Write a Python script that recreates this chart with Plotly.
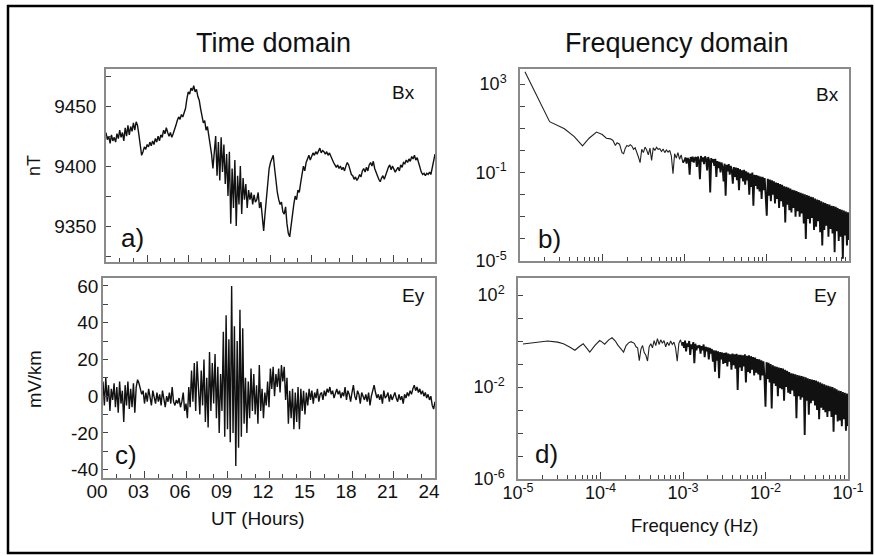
import numpy as np
import plotly.graph_objects as go

# ---------------- data ----------------
# sampling grid of the time series: one sample every 0.1 h (6 min), 00-24 UT
hours = np.round(np.arange(241) * 0.1, 1)

bx_nT = [
    9428, 9422, 9425, 9419, 9426, 9421, 9424, 9420, 9427, 9423,
    9430, 9424, 9428, 9421, 9432, 9425, 9434, 9426, 9433, 9429,
    9436, 9430, 9437, 9434, 9426, 9416, 9409, 9412, 9416, 9414,
    9418, 9416, 9420, 9417, 9421, 9418, 9423, 9420, 9425, 9421,
    9426, 9424, 9430, 9427, 9432, 9428, 9425, 9428, 9424, 9427,
    9430, 9434, 9438, 9441, 9439, 9443, 9441, 9445, 9448, 9456,
    9462, 9460, 9465, 9463, 9467, 9462, 9464, 9458, 9455, 9448,
    9442, 9436, 9438, 9430, 9433, 9426, 9420, 9410, 9398, 9412,
    9425, 9392, 9420, 9388, 9424, 9395, 9418, 9385, 9410, 9375,
    9412, 9352, 9398, 9365, 9405, 9350, 9392, 9368, 9400, 9360,
    9390, 9372, 9385, 9365, 9380, 9372, 9378, 9368, 9376, 9370,
    9372, 9378, 9365, 9370, 9358, 9346, 9360, 9372, 9385, 9398,
    9403, 9407, 9409, 9398, 9385, 9378, 9372, 9368, 9370, 9362,
    9360, 9366, 9352, 9344, 9341, 9350, 9362, 9368, 9375, 9372,
    9380, 9378, 9386, 9392, 9400, 9396, 9403, 9406, 9409, 9405,
    9408, 9411, 9409, 9412, 9410, 9413, 9415, 9411, 9413, 9412,
    9410, 9412, 9409, 9411, 9408, 9406, 9403, 9401, 9399, 9401,
    9398, 9400, 9397, 9399, 9396, 9400, 9403, 9401, 9397, 9393,
    9392, 9389, 9391, 9388, 9390, 9393, 9391, 9396, 9398, 9395,
    9399, 9396, 9401, 9403, 9400, 9404, 9398, 9394, 9392, 9389,
    9387, 9390, 9392, 9389, 9393, 9396, 9399, 9401, 9397, 9400,
    9398, 9395, 9397, 9399, 9396, 9401, 9399, 9403, 9402, 9405,
    9403, 9406, 9404, 9408, 9406, 9409, 9405, 9407, 9403, 9398,
    9395, 9393, 9394, 9392, 9394, 9393, 9395, 9393, 9398, 9403,
    9410,
]

ey_mVkm = [
    8, -5, 10, -3, 6, -8, 4, -2, 7, -6,
    5, -9, 8, -4, 3, -14, 6, -5, 8, -7,
    4, -6, 7, -9, 5, 9, 7, 4, 1, 3,
    -4, 2, -3, 4, -2, -5, 3, -1, -4, 2,
    -3, 1, -5, 3, -2, -6, 0, -3, 2, -4,
    5, -3, -5, -2, -4, -1, -6, -3, 2, -8,
    -4, -12, 5, -6, 14, -3, 18, -8, 19, 2,
    -10, 14, -5, 20, -14, 10, -17, 24, -8, 18,
    -4, 23, -12, 16, -20, 12, -8, 35, -22, 44,
    -18, 31, -25, 60, -20, 38, -38, 30, -28, 47,
    -22, 37, -15, 10, -20, 8, -12, 15, -8, 12,
    -10, 6, -15, 17, -8, 4, -12, 2, -5, 8,
    -6, 15, 4, 16, 0, 12, 5, 15, 2, 17,
    8, 16, -2, 10, -15, 3, -12, 4, -18, 2,
    -14, 5, -18, 4, -8, 3, -10, 2, -5, 4,
    -2, 3, -4, 2, -1, 4, -3, 1, 2, -2,
    3, 0, 4, 2, 5, 1, 3, -1, 2, 4,
    1, 3, -1, 2, 0, 5, -2, 3, 1, -3,
    2, 6, 0, -2, 3, 1, -4, 2, 0, -2,
    1, -3, 2, -5, 0, 3, 6, 2, -1, 1,
    -2, 1, -4, 3, -1, 0, 2, -3, 1, -2,
    0, 2, -1, -3, 1, -2, 0, -4, 1, -1,
    2, 0, 3, 1, 4, 6, 3, 5, 2, 4,
    1, 3, 0, 2, -1, 1, -2, 0, -5, -7,
    -3,
]

# low-frequency part of the spectra: log10(frequency) and log10(power)
bx_spec_logf = [-4.94, -4.64, -4.46, -4.34, -4.24, -4.16, -4.07, -4.00, -3.95, -3.90,
                -3.87, -3.84, -3.82, -3.79, -3.76, -3.74, -3.72, -3.70, -3.68, -3.66,
                -3.64, -3.62, -3.60, -3.58, -3.56, -3.54, -3.52, -3.50, -3.48, -3.46,
                -3.44, -3.42, -3.40, -3.38, -3.36, -3.34, -3.32, -3.30, -3.28, -3.26,
                -3.24, -3.22, -3.20, -3.18, -3.16, -3.14, -3.12, -3.10, -3.08, -3.06,
                -3.04, -3.02]
bx_spec_logp = [3.56, 1.30, 0.98, 0.62, 0.20, 0.55, 0.83, 0.72, 0.55, 0.52,
                0.45, 0.22, 0.35, 0.28, -0.10, -0.15, 0.10, 0.22, 0.18, 0.26,
                0.20, 0.05, 0.12, -0.05, -0.30, -0.55, 0.05, -0.10, 0.15, 0.02,
                -0.20, 0.10, -0.45, 0.12, 0.00, 0.14, 0.05, 0.08, -0.05, 0.06,
                -0.10, 0.02, -0.08, 0.00, -0.25, -1.05, -0.15, -0.35, -0.10, -0.40,
                -0.20, -0.55]

ey_spec_logf = [-4.94, -4.80, -4.64, -4.52, -4.45, -4.38, -4.31, -4.26, -4.21, -4.17,
                -4.13, -4.07, -4.01, -3.98, -3.95, -3.90, -3.86, -3.82, -3.79, -3.75,
                -3.72, -3.69, -3.66, -3.63, -3.61, -3.59, -3.57, -3.55, -3.53, -3.51,
                -3.49, -3.47, -3.45, -3.43, -3.41, -3.39, -3.37, -3.35, -3.33, -3.31,
                -3.29, -3.27, -3.25, -3.23, -3.21, -3.19, -3.17, -3.15, -3.13, -3.11,
                -3.09, -3.07, -3.05, -3.03, -3.01]
ey_spec_logp = [-0.13, -0.08, 0.00, -0.05, -0.12, -0.25, -0.40, -0.25, -0.12, -0.30,
                -0.48, -0.20, 0.02, -0.05, -0.14, 0.05, 0.14, 0.00, -0.18, -0.35,
                -0.48, -0.20, -0.08, -0.03, -0.05, -0.10, -0.25, -0.30, -0.85, -0.35,
                -0.20, -0.50, -0.62, -0.87, -0.25, -0.12, -0.30, 0.02, -0.20, 0.10,
                -0.15, 0.05, -0.10, 0.02, -0.25, -0.05, -0.20, 0.00, -0.15, -0.05,
                -0.30, -0.88, -0.10, 0.05, -0.20]

# high-frequency part: log10(power) every 0.0125 decade from 10^-3 to 10^-1 Hz
dense_logf_start, dense_logf_step = -3.0, 0.0125
bx_dense_logp = [
    -0.45, -0.32, -0.60, -0.35, -0.42, -1.10, -0.30, -0.50,
    -0.28, -0.55, -0.35, -0.30, -0.75, -0.28, -0.45, -1.30,
    -0.25, -0.50, -0.32, -0.62, -0.27, -0.40, -0.90, -0.30,
    -0.45, -1.90, -0.35, -0.55, -0.40, -0.70, -0.38, -1.20,
    -0.48, -0.80, -0.52, -1.00, -0.55, -0.75, -1.40, -0.60,
    -2.05, -0.65, -0.95, -0.62, -1.10, -0.70, -0.90, -1.50,
    -0.75, -1.20, -0.78, -1.35, -0.80, -1.80, -0.85, -1.25,
    -0.90, -1.40, -0.88, -1.55, -0.95, -1.35, -1.00, -2.00,
    -1.05, -1.65, -1.00, -2.50, -1.10, -1.60, -1.12, -1.75,
    -1.15, -1.85, -1.18, -2.20, -1.20, -1.80, -1.25, -2.10,
    -2.95, -1.28, -2.05, -1.32, -2.30, -1.35, -2.00, -1.40,
    -2.40, -1.45, -2.20, -1.48, -2.60, -1.52, -2.30, -1.55,
    -2.55, -1.62, -3.26, -1.65, -2.45, -1.68, -2.70, -1.72,
    -2.80, -1.78, -2.60, -1.80, -3.00, -1.84, -2.75, -1.88,
    -3.00, -1.92, -2.85, -1.95, -3.30, -1.98, -4.00, -2.02,
    -3.10, -2.05, -3.30, -2.10, -3.05, -2.12, -3.60, -2.18,
    -3.45, -2.22, -3.20, -2.25, -3.70, -2.30, -4.30, -2.35,
    -3.60, -2.38, -3.40, -2.42, -3.90, -2.45, -3.55, -2.50,
    -3.75, -2.52, -4.60, -2.55, -3.65, -2.60, -4.10, -2.65,
    -3.90, -2.68, -4.90, -2.72, -3.85, -2.76, -4.30, -2.80,
    -4.05,
]
ey_dense_logp = [
    -0.05, -0.30, 0.02, -0.45, -0.10, -0.25, 0.00, -0.60,
    -0.15, -0.35, -0.05, -0.97, -0.12, -0.40, -0.20, -0.30,
    -0.18, -0.55, -0.22, -0.40, -0.15, -0.70, -0.25, -0.45,
    -0.28, -0.80, -0.30, -0.55, -0.35, -0.90, -0.40, -1.33,
    -0.42, -0.85, -0.45, -1.62, -0.48, -0.80, -0.50, -1.00,
    -0.52, -0.95, -0.50, -1.10, -0.55, -0.90, -0.58, -1.25,
    -0.55, -1.05, -0.58, -1.20, -0.56, -2.13, -0.60, -1.15,
    -0.60, -1.30, -0.62, -1.10, -0.58, -1.80, -0.64, -1.35,
    -0.62, -1.40, -0.66, -1.25, -0.70, -1.50, -0.72, -1.38,
    -0.78, -1.45, -0.80, -1.70, -0.84, -1.50, -0.88, -1.60,
    -2.86, -0.92, -1.65, -0.95, -1.80, -1.00, -2.93, -1.05,
    -1.85, -1.10, -1.95, -1.12, -2.40, -1.15, -2.05, -1.18,
    -2.10, -1.20, -2.60, -1.25, -2.00, -1.30, -2.25, -1.35,
    -2.30, -1.40, -2.15, -1.42, -2.40, -1.45, -3.36, -1.48,
    -2.40, -1.50, -2.55, -1.52, -2.45, -1.55, -4.09, -1.58,
    -2.60, -1.62, -3.20, -1.65, -2.70, -1.68, -2.60, -1.70,
    -2.80, -1.72, -3.00, -1.76, -3.40, -1.80, -2.90, -1.85,
    -3.00, -1.88, -3.10, -1.92, -3.30, -1.95, -3.05, -1.98,
    -3.30, -2.00, -3.95, -2.05, -3.20, -2.10, -3.50, -2.15,
    -3.45, -2.18, -3.70, -2.22, -3.40, -2.25, -3.90, -2.28,
    -3.70,
]

time_tick_vals = [0, 3, 6, 9, 12, 15, 18, 21, 24]
time_tick_text = ["00", "03", "06", "09", "12", "15", "18", "21", "24"]
bx_tick_vals = [9350, 9400, 9450]
ey_tick_vals = [-40, -20, 0, 20, 40, 60]
ey_tick_text = ["-40", "-20", "0", "20", "40", "60"]

# ---------------- derived arrays ----------------
dense_logf = dense_logf_start + dense_logf_step * np.arange(len(bx_dense_logp))
bx_lo_f = 10 ** np.array(bx_spec_logf)
bx_lo_p = 10 ** np.array(bx_spec_logp)
bx_hi_f = 10 ** np.concatenate([bx_spec_logf[-1:], dense_logf])
bx_hi_p = 10 ** np.concatenate([bx_spec_logp[-1:], bx_dense_logp])
ey_lo_f = 10 ** np.array(ey_spec_logf)
ey_lo_p = 10 ** np.array(ey_spec_logp)
ey_hi_f = 10 ** np.concatenate([ey_spec_logf[-1:], dense_logf])
ey_hi_p = 10 ** np.concatenate([ey_spec_logp[-1:], ey_dense_logp])

# ---------------- figure ----------------
W, H = 875, 556
FONT = "Liberation Sans, Arial, Helvetica, sans-serif"
TXT = "#111111"
FRAME = "#8a8a8a"
TICKC = "#444444"

def px(x):
    return x / W

def py(y):
    return 1 - y / H

line_t = dict(color="#111111", width=1.4)
line_thin = dict(color="#222222", width=1.1)
line_dense = dict(color="#111111", width=1.9)
fig = go.Figure()
fig.add_trace(go.Scatter(x=hours, y=bx_nT, mode="lines", line=line_t, xaxis="x", yaxis="y"))
fig.add_trace(go.Scatter(x=bx_lo_f, y=bx_lo_p, mode="lines", line=line_thin, xaxis="x2", yaxis="y2"))
fig.add_trace(go.Scatter(x=bx_hi_f, y=bx_hi_p, mode="lines", line=line_dense, xaxis="x2", yaxis="y2"))
fig.add_trace(go.Scatter(x=hours, y=ey_mVkm, mode="lines", line=line_t, xaxis="x3", yaxis="y3"))
fig.add_trace(go.Scatter(x=ey_lo_f, y=ey_lo_p, mode="lines", line=line_thin, xaxis="x4", yaxis="y4"))
fig.add_trace(go.Scatter(x=ey_hi_f, y=ey_hi_p, mode="lines", line=line_dense, xaxis="x4", yaxis="y4"))

common = dict(showline=True, mirror=True, linecolor=FRAME, linewidth=1.5,
              showgrid=False, zeroline=False, ticks="inside", tickcolor=TICKC,
              tickwidth=1, automargin=False,
              tickfont=dict(family=FONT, size=19, color=TXT))

decades_x = [1e-5, 1e-4, 1e-3, 1e-2, 1e-1]
minor_x = [k * 10.0 ** d for d in range(-5, -1) for k in range(2, 10)]

def sup(e):
    return "10<sup>%d</sup>" % e

fig.update_layout(
    template="none",
    width=W, height=H, autosize=False, margin=dict(l=0, r=0, t=0, b=0, pad=0),
    paper_bgcolor="white", plot_bgcolor="white", showlegend=False,
    font=dict(family=FONT, color=TXT),
    xaxis=dict(common, domain=[px(106), px(435)], anchor="y", range=[0, 24],
               tickmode="array", tickvals=time_tick_vals, showticklabels=False,
               ticklen=7, minor=dict(dtick=1, tick0=0, ticks="inside", ticklen=4,
                                     tickcolor=TICKC)),
    yaxis=dict(common, domain=[py(262), py(69)], anchor="x", range=[9320, 9481],
               tickmode="array", tickvals=bx_tick_vals, ticklen=5,
               ticklabelstandoff=4,
               minor=dict(dtick=25, tick0=9325, ticks="inside", ticklen=5,
                          tickcolor=TICKC)),
    xaxis2=dict(common, type="log", domain=[px(520), px(849)], anchor="y2",
                range=[-5, -1], tickmode="array", tickvals=decades_x,
                showticklabels=False, ticklen=7,
                minor=dict(tickmode="array", tickvals=minor_x, ticks="inside",
                           ticklen=4, tickcolor=TICKC)),
    yaxis2=dict(common, type="log", domain=[py(261), py(69)], anchor="x2",
                range=[-5, 3.68], tickmode="array", tickvals=[1e-5, 1e-1, 1e3],
                ticktext=[sup(-5), sup(-1), sup(3)], ticklen=5,
                tickfont=dict(family=FONT, size=18, color=TXT),
                ticklabelstandoff=8,
                minor=dict(tickmode="array",
                           tickvals=[1e-4, 1e-3, 1e-2, 1e0, 1e1, 1e2],
                           ticks="inside", ticklen=5, tickcolor=TICKC)),
    xaxis3=dict(common, domain=[px(103), px(435)], anchor="y3", range=[0, 24],
                tickmode="array", tickvals=time_tick_vals, ticktext=time_tick_text,
                ticklen=7, ticklabelshift=-6, ticklabelstandoff=-5,
                minor=dict(dtick=1, tick0=0, ticks="inside", ticklen=4,
                           tickcolor=TICKC)),
    yaxis3=dict(common, domain=[py(478), py(278)], anchor="x3", range=[-44.5, 64.3],
                tickmode="array", tickvals=ey_tick_vals, ticktext=ey_tick_text,
                ticklen=5, ticklabelstandoff=-1,
                minor=dict(dtick=10, tick0=0, ticks="inside", ticklen=5,
                           tickcolor=TICKC)),
    xaxis4=dict(common, type="log", domain=[px(518), px(848)], anchor="y4",
                range=[-5, -1], tickmode="array", tickvals=decades_x,
                ticktext=[sup(-5), sup(-4), sup(-3), sup(-2), sup(-1)], ticklen=7,
                tickfont=dict(family=FONT, size=18, color=TXT),
                ticklabelstandoff=-3,
                minor=dict(tickmode="array", tickvals=minor_x, ticks="inside",
                           ticklen=4, tickcolor=TICKC)),
    yaxis4=dict(common, type="log", domain=[py(479), py(278)], anchor="x4",
                range=[-6, 2.74], tickmode="array", tickvals=[1e-6, 1e-2, 1e2],
                ticktext=[sup(-6), sup(-2), sup(2)], ticklen=5,
                tickfont=dict(family=FONT, size=18, color=TXT),
                ticklabelstandoff=8,
                minor=dict(tickmode="array",
                           tickvals=[1e-5, 1e-4, 1e-3, 1e-1, 1e0, 1e1],
                           ticks="inside", ticklen=5, tickcolor=TICKC)),
)

def label(text, x, y, size, angle=0):
    fig.add_annotation(text=text, x=px(x), y=py(y), xref="paper", yref="paper",
                       showarrow=False, xanchor="center", yanchor="middle",
                       textangle=angle, font=dict(family=FONT, size=size, color=TXT))

label("Time domain", 273, 43, 27)
label("Frequency domain", 677, 43, 27)
label("nT", 34, 166, 18, -90)
label("mV/km", 34, 379, 18.5, -90)
label("UT (Hours)", 258, 518, 19)
label("Frequency (Hz)", 694, 525, 18.5)
label("Bx", 403, 93, 19)
label("Bx", 827, 94, 19)
label("Ey", 413, 295, 19)
label("Ey", 825, 295, 19)
label("a)", 132, 238, 26)
label("b)", 549, 239, 26)
label("c)", 126, 455, 26)
label("d)", 546, 454, 26)

# outer black frame of the figure
fig.add_shape(type="rect", xref="paper", yref="paper",
              x0=px(8), x1=px(872), y0=py(553), y1=py(6),
              line=dict(color="black", width=2.5), fillcolor="rgba(0,0,0,0)")

fig.write_html("out.html", config={"responsive": False, "displayModeBar": False},
               post_script="document.body.style.margin='0';"
                           "document.body.style.overflow='hidden';")
